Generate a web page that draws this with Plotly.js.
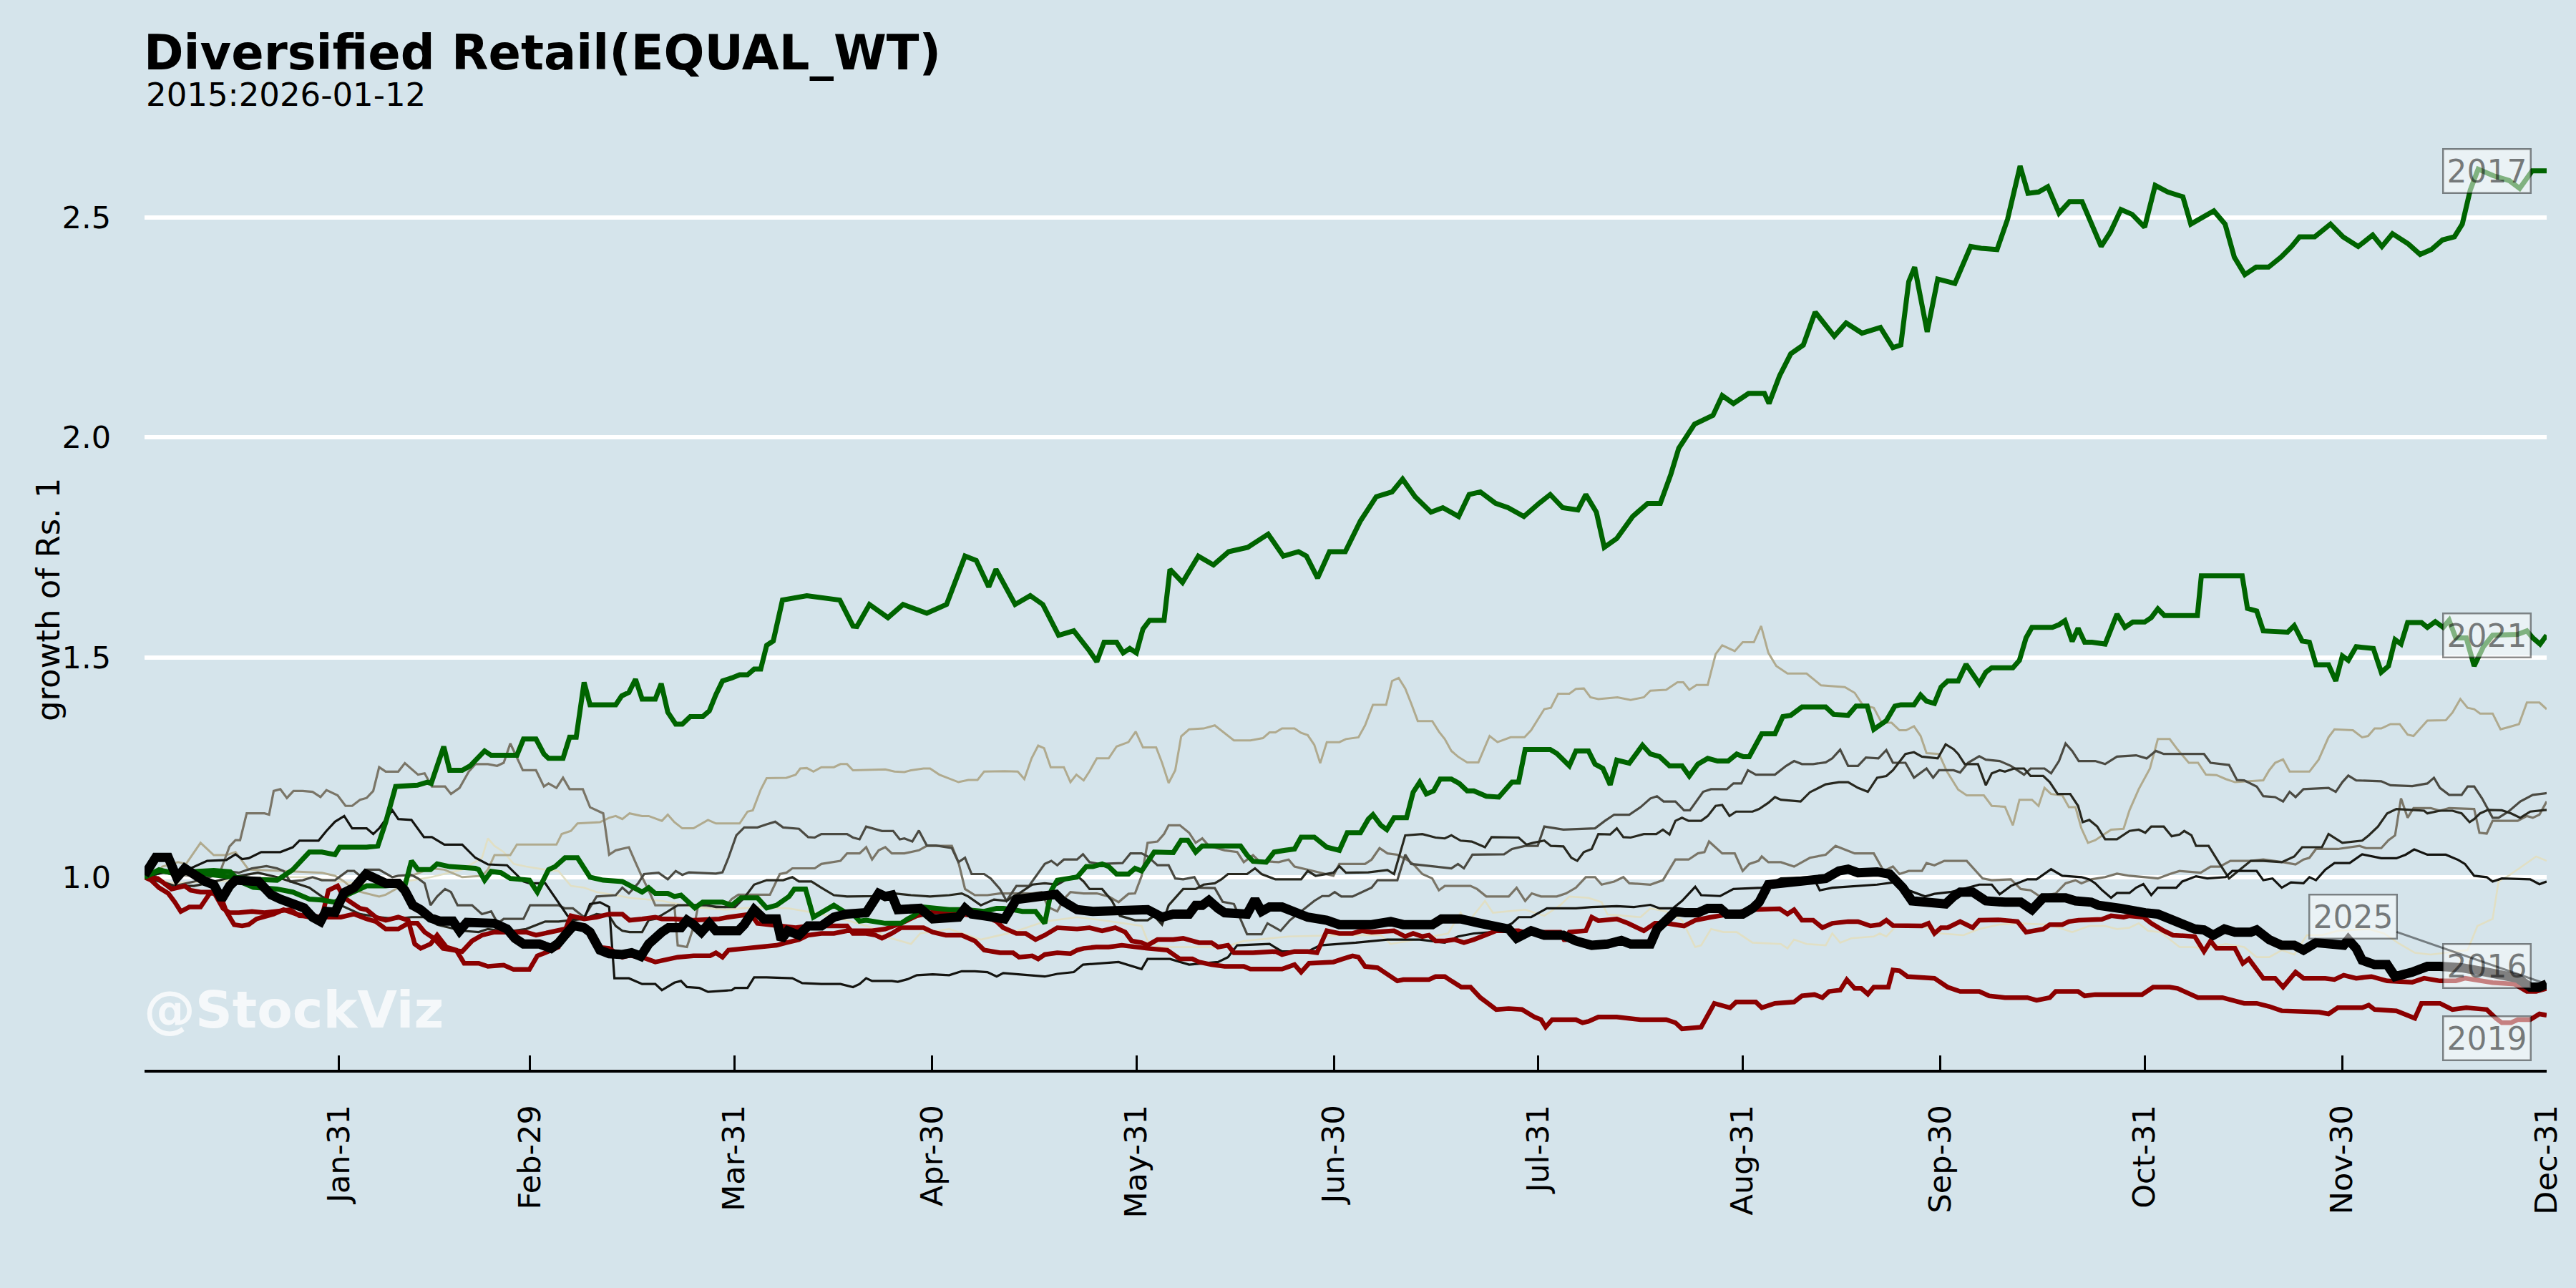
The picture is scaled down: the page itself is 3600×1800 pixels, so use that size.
<!DOCTYPE html>
<html>
<head>
<meta charset="utf-8">
<script src="https://cdn.plot.ly/plotly-3.0.1.min.js"></script>
<style>html,body{margin:0;padding:0;background:#d5e4eb;}</style>
</head>
<body>
<div id="chart" style="width:3600px;height:1800px;"></div>
<script>
// ---- data: [day-of-year offset from Jan-01, growth of Rs. 1] ----
const tickDates  = ['2024-01-31','2024-02-29','2024-03-31','2024-04-30','2024-05-31','2024-06-30','2024-07-31','2024-08-31','2024-09-30','2024-10-31','2024-11-30','2024-12-31'];
const tickLabels = ['Jan-31','Feb-29','Mar-31','Apr-30','May-31','Jun-30','Jul-31','Aug-31','Sep-30','Oct-31','Nov-30','Dec-31'];
const yTicks = [1.0, 1.5, 2.0, 2.5];

const yr2017 = [[0.5,1.0],[2.7,1.017],[5,1.008],[8,1.012],[11,1.005],[14,1.0],[17,0.995],[20.6,0.993],[23,1.017],[25.5,1.057],[27.4,1.057],[29.4,1.051],[30.1,1.068],[31.8,1.068],[34.2,1.068],[35.9,1.071],[37.1,1.125],[38.6,1.206],[41.9,1.209],[43.4,1.216],[44,1.213],[44.9,1.253],[45.9,1.297],[46.8,1.243],[48.7,1.243],[49.9,1.253],[50.9,1.27],[52.1,1.287],[53.1,1.277],[57,1.277],[58,1.314],[59.9,1.314],[61.1,1.28],[61.8,1.27],[64,1.27],[65,1.318],[66,1.318],[67.2,1.443],[68.1,1.392],[72,1.392],[72.9,1.412],[74,1.42],[75,1.45],[76,1.405],[78,1.405],[78.9,1.44],[79.9,1.375],[81.1,1.348],[82.1,1.348],[83.3,1.365],[85.2,1.365],[86.2,1.378],[87.2,1.415],[88.2,1.446],[89.6,1.453],[90.8,1.46],[92,1.46],[93,1.473],[94,1.473],[94.9,1.527],[95.9,1.537],[97.3,1.63],[101,1.64],[106,1.63],[108,1.571],[108.6,1.57],[110.5,1.62],[113.3,1.59],[115.6,1.62],[119.2,1.6],[122.2,1.62],[125,1.73],[126.7,1.72],[128.6,1.66],[129.7,1.70],[132.6,1.62],[134.9,1.64],[136.8,1.62],[139.2,1.55],[141.5,1.56],[143.9,1.514],[145,1.49],[146.1,1.534],[148,1.534],[149,1.51],[150,1.52],[151,1.51],[152,1.564],[153,1.584],[155.2,1.584],[156.1,1.70],[158,1.67],[160.4,1.73],[162.7,1.71],[165,1.74],[167.9,1.75],[171,1.78],[173.3,1.73],[175.6,1.74],[176.8,1.73],[178.5,1.68],[180.3,1.74],[182.7,1.74],[185,1.81],[187.4,1.865],[189.8,1.876],[191.4,1.905],[193.3,1.865],[195.7,1.83],[197.5,1.84],[199.9,1.82],[201.5,1.87],[203.2,1.876],[205.5,1.85],[207.4,1.84],[209.8,1.82],[212.1,1.85],[213.8,1.87],[215.7,1.84],[218,1.835],[219.2,1.87],[220.8,1.83],[222,1.75],[223.9,1.77],[226.3,1.82],[228.6,1.85],[230.5,1.85],[232.1,1.916],[233.3,1.975],[235.7,2.03],[238.5,2.05],[239.9,2.095],[241.6,2.077],[243.9,2.10],[246.3,2.10],[247,2.077],[248.6,2.14],[250.3,2.19],[252.2,2.21],[254,2.285],[256.9,2.23],[258.7,2.26],[261.1,2.237],[262.8,2.245],[263.9,2.25],[265.8,2.204],[267,2.21],[268.2,2.354],[269.1,2.387],[271,2.24],[272.6,2.36],[275.2,2.35],[277.6,2.434],[279.2,2.43],[281.6,2.427],[283.2,2.496],[285.1,2.617],[286.3,2.555],[287.9,2.558],[289.3,2.57],[291,2.51],[292.6,2.536],[294.5,2.536],[297.4,2.434],[298.8,2.467],[300.4,2.518],[302.1,2.507],[304,2.478],[305.6,2.573],[307.5,2.558],[309.8,2.547],[311,2.485],[312.7,2.5],[314.5,2.515],[316.2,2.485],[317.6,2.41],[319.2,2.37],[320.9,2.387],[322.8,2.387],[324.7,2.41],[326.3,2.434],[327.5,2.456],[329.8,2.456],[332.2,2.485],[334.1,2.456],[336.4,2.434],[338.6,2.46],[340,2.434],[341.6,2.463],[344,2.44],[345.8,2.416],[347.5,2.427],[349.2,2.449],[351,2.456],[352.2,2.485],[353.4,2.562],[354.6,2.61],[356.9,2.595],[359.3,2.584],[360.9,2.566],[362.8,2.606],[365,2.606]];

const yr2021 = [[0.5,1.0],[2.7,1.015],[5,1.01],[8,1.012],[11,1.015],[13.5,1.012],[15,0.99],[17,0.977],[20.6,0.973],[23,0.966],[25.5,0.95],[27.4,0.948],[29.4,0.943],[31.3,0.96],[34.2,0.98],[37.1,0.98],[39,0.983],[40,0.98],[41,1.037],[42,1.017],[43.9,1.017],[44.9,1.03],[46.8,1.024],[50.7,1.02],[51.2,1.017],[52.1,0.993],[53.1,1.013],[54.6,1.01],[56,0.997],[58.9,0.993],[60.1,0.966],[61.8,1.017],[62.8,1.024],[64.3,1.044],[66.2,1.044],[68.1,1.0],[70.1,0.993],[73,0.99],[74.1,0.98],[76,0.966],[77,0.976],[78,0.963],[79.9,0.963],[80.9,0.956],[81.9,0.959],[84,0.93],[85.2,0.943],[88.2,0.943],[89.6,0.936],[91,0.953],[93.5,0.953],[94.9,0.93],[96.4,0.936],[98.3,0.956],[99.1,0.973],[100.8,0.973],[102,0.909],[105.1,0.936],[106.6,0.922],[108,0.916],[109,0.9],[110,0.902],[112.9,0.895],[115.3,0.895],[116.3,0.905],[117.2,0.912],[118.7,0.932],[120.1,0.929],[122.6,0.926],[125,0.926],[127.9,0.922],[129.8,0.929],[130.8,0.929],[132.3,0.926],[133.7,0.922],[135.7,0.922],[137.1,0.895],[138.1,0.97],[139,0.993],[142,1.0],[143.4,1.024],[144.4,1.024],[145.8,1.03],[146.8,1.024],[148,1.007],[149.8,1.007],[150.8,1.02],[151.8,1.014],[152.7,1.034],[153.7,1.057],[156.6,1.056],[157.8,1.084],[158.8,1.084],[160,1.057],[161,1.071],[166.8,1.071],[167.8,1.05],[168.7,1.036],[170.7,1.034],[171.9,1.057],[173.6,1.061],[175,1.064],[176,1.091],[178,1.091],[179.9,1.068],[181.8,1.061],[183,1.101],[185,1.101],[186.2,1.132],[186.9,1.142],[188.1,1.118],[189,1.108],[190.1,1.135],[192,1.135],[193,1.193],[194,1.216],[195,1.189],[196.1,1.196],[197.1,1.223],[198.8,1.223],[200,1.213],[201.2,1.196],[202.2,1.196],[204.1,1.184],[206,1.182],[208,1.216],[209,1.216],[210,1.29],[213.8,1.29],[214.8,1.281],[216.7,1.253],[217.7,1.287],[219.6,1.287],[220.6,1.257],[221.8,1.247],[222.9,1.21],[223.9,1.266],[225.8,1.259],[227.8,1.3],[229,1.28],[230.4,1.274],[231.9,1.253],[233.8,1.253],[234.9,1.23],[236.2,1.257],[237.7,1.27],[239.2,1.264],[240.8,1.264],[242.1,1.28],[243.1,1.274],[244,1.274],[245.9,1.326],[247.9,1.326],[249.1,1.365],[250.3,1.368],[252,1.387],[255.6,1.387],[256.8,1.37],[259,1.368],[260.2,1.389],[261.9,1.389],[262.9,1.336],[264.8,1.356],[266.1,1.389],[267,1.392],[269,1.392],[270,1.414],[270.9,1.4],[272.1,1.395],[273.1,1.432],[274.1,1.446],[275.7,1.446],[276.9,1.484],[277.9,1.461],[278.9,1.44],[279.9,1.466],[280.8,1.476],[284,1.476],[285,1.493],[286,1.544],[286.9,1.568],[290,1.568],[291,1.574],[291.9,1.583],[293,1.536],[293.9,1.566],[294.9,1.534],[296,1.534],[298,1.53],[299.8,1.598],[301,1.568],[302.2,1.58],[304,1.58],[305,1.59],[306,1.61],[307,1.595],[312,1.595],[312.6,1.685],[318.8,1.685],[319.6,1.611],[321,1.605],[322,1.56],[325.7,1.557],[326.7,1.572],[327.9,1.537],[329,1.534],[330,1.483],[331.9,1.483],[333,1.446],[334,1.503],[334.9,1.493],[336.1,1.524],[338.7,1.52],[339.9,1.466],[341,1.48],[342,1.54],[342.9,1.53],[343.9,1.579],[346,1.579],[346.9,1.568],[348.1,1.581],[349.3,1.568],[350.2,1.584],[351.2,1.544],[352.8,1.544],[354,1.48],[355.4,1.524],[356.8,1.55],[360.6,1.552],[362,1.56],[362.9,1.544],[364,1.53],[365,1.55]];

const yr2025 = [[0.5,1.005],[2.2,1.045],[4.1,1.045],[5.4,0.999],[6.6,1.02],[8.5,1.0],[9.7,0.99],[11,0.983],[12.2,0.95],[13.4,0.98],[14.3,0.993],[17.8,0.99],[19.7,0.96],[21.1,0.95],[23,0.939],[24.7,0.93],[26,0.909],[27.2,0.899],[28,0.922],[29.4,0.92],[30.8,0.965],[32.3,0.976],[34.1,1.007],[35.6,0.997],[37.1,0.986],[39,0.986],[40,0.97],[41.2,0.936],[42.4,0.926],[43.9,0.907],[45.3,0.9],[47.3,0.9],[48.3,0.878],[49.4,0.897],[51.7,0.897],[53.6,0.895],[55.5,0.882],[56.7,0.861],[58,0.848],[60.4,0.848],[62.2,0.838],[63.3,0.85],[64.3,0.868],[65.6,0.89],[67.2,0.885],[68.1,0.875],[69.6,0.834],[71,0.826],[73,0.824],[74.4,0.828],[75.8,0.82],[77,0.848],[79,0.875],[80,0.885],[81.9,0.885],[82.8,0.902],[83.8,0.892],[85,0.875],[86.2,0.895],[87.2,0.878],[90.6,0.878],[91.5,0.892],[93,0.926],[94.5,0.905],[96.4,0.905],[97.1,0.858],[98.1,0.878],[99.8,0.868],[101.2,0.889],[103.2,0.889],[105.1,0.909],[107,0.916],[110,0.919],[111.9,0.963],[112.9,0.956],[113.9,0.959],[114.8,0.926],[116.8,0.926],[118.2,0.929],[120.1,0.905],[122.6,0.905],[124,0.909],[125,0.929],[126,0.916],[127.9,0.912],[129.8,0.905],[131,0.905],[132.8,0.949],[134.7,0.953],[137.1,0.953],[138.8,0.961],[139.8,0.946],[142,0.926],[144.4,0.922],[147.9,0.925],[152.7,0.926],[154.9,0.909],[156.6,0.916],[159,0.916],[160,0.936],[161,0.936],[162,0.947],[163.4,0.929],[164.4,0.919],[167.8,0.916],[169,0.949],[170,0.922],[171.2,0.932],[173.1,0.932],[175,0.919],[177,0.909],[179.9,0.902],[181.8,0.892],[186.7,0.892],[189.6,0.899],[191.5,0.892],[195.9,0.892],[197.3,0.905],[200.2,0.905],[203.2,0.895],[205.6,0.885],[207.5,0.882],[208.7,0.861],[210.9,0.878],[212.9,0.868],[215.8,0.868],[217.7,0.855],[220.1,0.845],[222.5,0.848],[224.6,0.856],[226,0.848],[229,0.848],[230,0.882],[231.4,0.902],[232.8,0.922],[234.3,0.919],[236.2,0.919],[237.7,0.929],[239.6,0.929],[240.6,0.916],[243,0.916],[244.5,0.929],[245.5,0.943],[246.9,0.983],[248.8,0.986],[250.8,0.993],[255.6,0.997],[257.6,1.014],[259,1.018],[260.5,1.01],[263.4,1.012],[265.3,1.007],[267.3,0.976],[268.7,0.946],[270.2,0.943],[273.8,0.939],[275,0.956],[276,0.966],[277.9,0.966],[279.9,0.946],[282.8,0.943],[285.2,0.943],[286.9,0.926],[288.6,0.953],[292,0.953],[293.5,0.946],[295.9,0.943],[297,0.936],[300.3,0.929],[302.7,0.926],[304.1,0.919],[306,0.916],[307.8,0.905],[309.7,0.889],[311.6,0.882],[313,0.88],[314.4,0.868],[316.1,0.882],[317.7,0.875],[320.1,0.875],[321,0.88],[322.9,0.858],[324.8,0.845],[326.7,0.845],[328.1,0.834],[330,0.851],[332.8,0.845],[334.2,0.845],[334.9,0.858],[336.1,0.838],[337,0.811],[338.9,0.801],[340.8,0.801],[342,0.774],[344.6,0.784],[346.9,0.797],[348.8,0.797],[352.1,0.794],[355.9,0.784],[360.6,0.77],[362.5,0.75],[363.9,0.75],[365,0.757]];

const yr2016 = [[0.5,1.0],[2.5,0.997],[4,0.98],[4.6,0.973],[6.6,0.98],[7.5,0.97],[9,0.966],[11,0.966],[12.4,0.929],[13.4,0.919],[14.8,0.919],[16.8,0.922],[18.7,0.919],[20.6,0.922],[22.6,0.926],[24,0.912],[26.4,0.909],[28.4,0.909],[30.3,0.909],[32.3,0.916],[34.2,0.905],[35.6,0.899],[37.1,0.882],[39,0.882],[40.5,0.895],[41.9,0.895],[43,0.875],[44.4,0.861],[45.8,0.838],[48,0.834],[48.7,0.831],[50.2,0.855],[51.7,0.868],[53.6,0.875],[58.4,0.875],[59.9,0.868],[61.8,0.875],[63.3,0.878],[65.2,0.885],[67.2,0.889],[69.1,0.841],[71,0.838],[73,0.818],[74.1,0.822],[76,0.818],[78,0.807],[79.9,0.814],[81.4,0.818],[83.8,0.821],[86.3,0.821],[87.2,0.828],[88.2,0.818],[89.1,0.834],[91.5,0.838],[93.5,0.841],[96.4,0.845],[97.9,0.851],[99.8,0.858],[101.2,0.868],[103.2,0.872],[105.1,0.872],[107.1,0.878],[110.9,0.878],[112.9,0.882],[115.3,0.895],[116.8,0.905],[117.7,0.912],[120.6,0.922],[122.6,0.922],[124.5,0.916],[126.5,0.912],[128.4,0.909],[129.8,0.899],[130.8,0.885],[132.8,0.872],[134.2,0.872],[135.7,0.858],[137.1,0.868],[139,0.885],[142,0.882],[143.9,0.885],[145.8,0.878],[147.8,0.885],[149.3,0.875],[150.3,0.855],[151.8,0.851],[152.7,0.845],[154.2,0.858],[156.6,0.858],[158.1,0.861],[160.5,0.851],[162.4,0.851],[163.4,0.841],[164.9,0.845],[165.8,0.828],[168.7,0.828],[172.1,0.831],[173.1,0.824],[175,0.831],[177,0.831],[178.4,0.828],[179.9,0.878],[181.8,0.872],[183.8,0.872],[185.2,0.878],[186.7,0.875],[190.1,0.878],[191.8,0.865],[193,0.872],[194.4,0.865],[195.4,0.868],[196.4,0.855],[197.8,0.855],[199.3,0.858],[200.7,0.851],[202.2,0.858],[204.6,0.872],[205.6,0.878],[209,0.878],[210.4,0.872],[212.9,0.875],[215.3,0.875],[216,0.855],[216.7,0.875],[219.2,0.878],[220.1,0.909],[221.1,0.901],[222.5,0.902],[223.9,0.905],[225.6,0.895],[228,0.878],[229.7,0.895],[231.4,0.895],[234.1,0.889],[235.8,0.902],[238.2,0.909],[241.1,0.916],[244,0.926],[248.6,0.928],[249.8,0.916],[250.8,0.926],[252,0.902],[253.7,0.902],[255.1,0.885],[256.6,0.895],[259,0.899],[260.5,0.899],[262.4,0.889],[263.8,0.892],[264.8,0.902],[265.8,0.89],[270.2,0.889],[271.2,0.895],[272.1,0.872],[273.1,0.885],[274.1,0.885],[276,0.899],[277.9,0.885],[278.9,0.902],[281.8,0.903],[284.7,0.899],[286,0.875],[288.6,0.882],[289.6,0.892],[291.5,0.892],[292.5,0.899],[294,0.902],[297.5,0.904],[298.9,0.912],[300.8,0.909],[301.7,0.912],[303.8,0.909],[305,0.895],[306.9,0.878],[308.3,0.868],[311.6,0.865],[313,0.831],[314,0.855],[314.9,0.838],[317.7,0.838],[318.9,0.804],[319.8,0.814],[322,0.77],[323.8,0.77],[325,0.75],[326.9,0.784],[328.1,0.77],[331.4,0.77],[332.8,0.767],[334.2,0.777],[336.1,0.77],[338.4,0.774],[340.8,0.764],[344.6,0.761],[346.4,0.77],[348.8,0.764],[351.2,0.764],[352.6,0.77],[356.8,0.76],[360.1,0.757],[362,0.74],[363.4,0.74],[365,0.747]];

const yr2019 = [[0.5,1.0],[1.5,0.993],[2.7,0.976],[4.1,0.963],[5.1,0.943],[6,0.922],[7.3,0.932],[9,0.932],[10.4,0.963],[11.9,0.963],[12.9,0.922],[14.1,0.892],[15.3,0.889],[16.3,0.892],[17.5,0.905],[18.7,0.909],[20.1,0.916],[21.6,0.926],[23.5,0.916],[25.5,0.909],[27.4,0.909],[28.4,0.97],[29.8,0.98],[30.8,0.953],[31.8,0.943],[33.2,0.929],[34.2,0.926],[35.6,0.909],[37.1,0.902],[39,0.909],[40.5,0.902],[41.5,0.848],[42.4,0.838],[43.9,0.848],[44.9,0.868],[46.3,0.841],[47.8,0.834],[49,0.804],[51.2,0.804],[52.6,0.797],[55,0.8],[56.5,0.79],[58.9,0.79],[60.1,0.821],[61.3,0.828],[63.3,0.841],[65.2,0.912],[67.2,0.905],[69.1,0.909],[71,0.916],[73,0.916],[74.1,0.902],[76,0.905],[78,0.909],[79,0.905],[80.9,0.905],[83.8,0.902],[87.7,0.905],[89.1,0.909],[90.6,0.912],[92.5,0.916],[93.5,0.895],[95.4,0.892],[97.4,0.889],[99.3,0.885],[101.2,0.889],[107.1,0.889],[108,0.872],[110,0.872],[111.4,0.868],[112.4,0.861],[113.9,0.872],[115.3,0.885],[118.7,0.885],[120.1,0.875],[122.1,0.868],[124.5,0.868],[126.5,0.855],[127.9,0.834],[130.3,0.828],[132.3,0.828],[133.2,0.818],[135.2,0.821],[136.1,0.814],[137.1,0.824],[139,0.828],[141,0.826],[142,0.834],[143,0.838],[144.9,0.841],[146.8,0.841],[148.8,0.845],[150.8,0.841],[152.7,0.838],[155.7,0.834],[157.6,0.814],[159.5,0.814],[160.5,0.807],[162.4,0.801],[164.4,0.797],[167.3,0.797],[168.3,0.791],[172.1,0.791],[173.1,0.791],[175,0.801],[176,0.784],[177.2,0.804],[180.9,0.807],[182.3,0.814],[183.8,0.821],[184.7,0.818],[185.7,0.797],[187.6,0.794],[189.1,0.78],[190.6,0.764],[191.5,0.767],[195.4,0.767],[196.4,0.774],[197.8,0.774],[198.8,0.764],[200.3,0.75],[201.7,0.75],[203.2,0.726],[204.1,0.716],[205.6,0.699],[207.5,0.701],[209.5,0.699],[211.4,0.682],[212.4,0.676],[213.1,0.659],[214.1,0.676],[217.7,0.676],[218.7,0.669],[219.6,0.672],[221.1,0.682],[223.9,0.682],[225.6,0.679],[227.5,0.676],[231.4,0.676],[232.8,0.669],[233.8,0.655],[236.7,0.659],[238.7,0.713],[239.9,0.709],[241.1,0.703],[242,0.716],[245,0.716],[245.9,0.703],[247.9,0.713],[250.8,0.716],[252,0.73],[253.9,0.733],[255.1,0.726],[256.1,0.74],[257.8,0.743],[258.8,0.767],[260,0.747],[261,0.747],[262,0.734],[262.9,0.75],[265.1,0.75],[265.8,0.789],[266.8,0.787],[268,0.774],[272.1,0.77],[274.1,0.75],[276,0.74],[278.9,0.74],[280.4,0.73],[282.8,0.726],[286.2,0.726],[287.6,0.72],[289.6,0.726],[290.5,0.74],[293.9,0.74],[294.9,0.73],[296.5,0.733],[299.8,0.733],[303.6,0.733],[305.3,0.75],[307.8,0.75],[309,0.747],[312.1,0.726],[315.8,0.726],[319.1,0.713],[321,0.713],[322.9,0.706],[324.8,0.696],[328.6,0.693],[330.5,0.693],[331.9,0.689],[333.3,0.703],[337,0.703],[338,0.709],[338.9,0.699],[340.8,0.696],[342.2,0.696],[345,0.679],[346,0.713],[348.8,0.713],[350.7,0.699],[352.8,0.703],[355.9,0.699],[357.3,0.679],[358.2,0.669],[359.6,0.669],[360.6,0.676],[362.5,0.676],[363.9,0.689],[365,0.686]];

const yr2022 = [[0.5,1.0],[3.2,1.01],[7.5,1.003],[10,1.003],[12.1,1.017],[13.4,1.07],[14.3,1.084],[15,1.084],[16,1.145],[18.7,1.145],[19.4,1.142],[20.1,1.196],[21.1,1.2],[22.1,1.18],[23.1,1.196],[24.5,1.196],[26,1.194],[27.2,1.182],[28.1,1.198],[29.8,1.186],[31,1.162],[32,1.162],[33.2,1.176],[34.2,1.18],[35.2,1.196],[36.1,1.25],[37.1,1.24],[39,1.24],[40,1.259],[42,1.233],[43,1.236],[44.1,1.206],[46.1,1.206],[47,1.189],[48.3,1.203],[49.7,1.24],[50.7,1.257],[52.6,1.257],[54,1.253],[55,1.26],[56,1.304],[57.9,1.243],[59.9,1.243],[61.1,1.206],[61.8,1.213],[63,1.203],[64,1.226],[65,1.2],[67,1.2],[68.1,1.159],[70.1,1.145],[71,1.051],[72,1.061],[74,1.068],[74.9,1.037],[76,1.0],[77,0.97],[78,0.936],[80.9,0.936],[81.4,0.845],[82.8,0.841],[84,0.895],[84.5,0.936],[88.6,0.932],[89.6,0.95],[90.6,0.96],[95.4,0.96],[96.9,1.007],[97.9,1.01],[98.8,1.02],[102.2,1.02],[103.2,1.03],[106.1,1.037],[107.1,1.054],[109,1.054],[110,1.068],[110.9,1.04],[111.9,1.061],[112.9,1.068],[113.9,1.054],[115.8,1.054],[118,1.061],[119.2,1.071],[123,1.071],[124,1.034],[125,0.973],[126.5,0.959],[128.4,0.959],[130.3,0.963],[135.2,0.963],[136.6,0.966],[137.6,0.932],[139,0.922],[140,0.95],[141,0.966],[143,0.963],[145,0.963],[146.8,0.956],[148.3,0.943],[149.8,0.962],[150.8,0.963],[151.8,1.003],[152.7,1.078],[154.2,1.081],[155.2,1.098],[155.9,1.118],[157.6,1.118],[159,1.101],[160,1.078],[161,1.088],[162,1.071],[164.4,1.061],[166.3,1.057],[167.3,1.034],[168.7,1.05],[169.6,1.037],[172.6,1.034],[174.1,1.04],[175,1.024],[177,1.017],[178.9,1.01],[180.9,1.003],[181.8,1.03],[185.7,1.03],[186.7,1.04],[187.9,1.066],[189.1,1.054],[190.6,1.051],[192,1.04],[193,1.03],[194.4,1.007],[195.9,0.997],[196.9,0.97],[197.8,0.98],[200.2,0.98],[201.7,0.98],[202.7,0.973],[204.1,0.956],[207.5,0.956],[208.7,0.976],[210,0.946],[211,0.963],[212.4,0.956],[214.8,0.956],[216.2,0.963],[217.7,0.976],[219.2,1.0],[220.6,1.0],[221.6,0.983],[223.5,0.99],[224.9,1.0],[225.8,0.986],[229,0.983],[230.9,0.993],[232.8,1.04],[234.8,1.04],[236.2,1.054],[237.2,1.057],[237.9,1.081],[239.9,1.054],[241.8,1.054],[243,1.014],[244,1.03],[245.4,1.037],[245.9,1.047],[246.9,1.034],[248.8,1.034],[250.8,1.024],[253.2,1.044],[255.6,1.051],[257.1,1.071],[260,1.054],[262.9,1.054],[264.4,1.014],[265.8,1.024],[266.8,1.007],[268.2,1.014],[270.2,1.014],[270.9,1.032],[272.1,1.027],[273.6,1.037],[277,1.037],[279.4,0.997],[280.8,0.993],[283.7,0.995],[285.2,0.973],[286.7,0.97],[288.1,0.956],[290.5,0.963],[292,0.986],[293.5,0.993],[294.4,0.986],[295.9,0.995],[298,1.0],[299.8,1.008],[301.7,1.003],[304.1,1.0],[306,0.997],[307.8,1.007],[309.3,1.014],[312.5,1.01],[314,1.024],[315.4,1.024],[317,1.037],[320.1,1.037],[322,1.04],[325,1.034],[326.9,1.029],[328.1,1.04],[329,1.044],[330,1.064],[333.3,1.064],[336.6,1.071],[337.6,1.066],[339.9,1.066],[341,1.084],[342,1.095],[342.9,1.179],[343.9,1.135],[344.8,1.157],[347.4,1.157],[348.8,1.151],[350.2,1.157],[354,1.155],[354.8,1.101],[355.9,1.099],[356.8,1.128],[360.6,1.128],[362,1.139],[362.9,1.135],[363.9,1.142],[365,1.172]];

const yr2023 = [[0.5,1.0],[2.5,0.993],[5.1,0.98],[8,0.99],[11,1.003],[12.9,1.014],[14.8,1.01],[16.8,1.02],[19,1.025],[20.6,1.02],[21.6,1.014],[22.6,0.99],[24.5,0.993],[26,1.0],[27.4,0.993],[29.4,0.993],[31.3,1.014],[32.3,1.014],[33.2,1.003],[34.2,1.017],[36.1,1.017],[38.1,1.0],[39,1.003],[41,1.005],[42,0.997],[43,0.986],[43.9,0.936],[44.9,0.956],[46.1,0.973],[47,0.966],[48,0.936],[50.2,0.936],[51.7,0.916],[53.1,0.922],[54.1,0.895],[55,0.905],[58,0.905],[59,0.936],[61.3,0.936],[63.3,0.936],[64.3,0.929],[65.5,0.929],[67.2,0.909],[69.1,0.956],[72,0.959],[73,0.976],[74,0.963],[75.4,0.986],[76.3,1.007],[78.5,1.01],[79.9,0.995],[81.1,1.014],[82.1,1.005],[83.1,1.011],[87.2,1.008],[88.2,1.011],[89.1,1.044],[90.3,1.095],[91.5,1.113],[93.5,1.113],[94.9,1.12],[96.2,1.126],[97.4,1.113],[99.8,1.11],[101.2,1.091],[102.2,1.09],[103.2,1.098],[107.1,1.098],[108,1.09],[109,1.086],[110,1.115],[110.9,1.111],[112.4,1.105],[114.1,1.105],[115.1,1.086],[115.8,1.088],[117,1.081],[118,1.106],[119.2,1.072],[120.6,1.072],[123,1.066],[124,1.034],[125,1.044],[126,1.007],[127.9,1.007],[128.9,0.997],[130.3,0.973],[131.3,0.946],[132.8,0.98],[134.7,0.98],[136.1,1.01],[137.1,1.03],[138.1,1.037],[139,1.027],[140,1.04],[142,1.04],[142.9,1.052],[143.9,1.034],[145.4,1.03],[147.9,1.032],[148.9,1.032],[150.1,1.054],[151.8,1.054],[152.7,1.047],[154.2,1.027],[155.9,1.027],[156.9,0.997],[158.1,0.995],[159.8,1.0],[160.7,0.976],[162.9,0.975],[164.1,0.944],[165.8,0.939],[167.8,0.87],[170,0.87],[170.9,0.895],[172.9,0.878],[174.3,0.902],[176,0.922],[178,0.946],[179.2,0.957],[180.2,0.957],[181.1,0.966],[182.1,0.956],[183.8,0.956],[186.7,0.976],[187.6,0.993],[190.6,0.993],[191.8,1.051],[192.7,1.03],[196.4,1.024],[198.8,1.02],[199.8,1.03],[200.7,1.02],[202,1.051],[206.8,1.052],[208,1.064],[210,1.071],[211.9,1.071],[212.9,1.115],[215.8,1.108],[220.6,1.111],[222.1,1.128],[223.5,1.142],[225.8,1.142],[227.5,1.159],[229,1.179],[230,1.184],[231,1.172],[232.8,1.172],[234.1,1.152],[235,1.152],[237,1.194],[238.2,1.2],[240.6,1.2],[241.6,1.213],[242.8,1.213],[243.8,1.243],[245,1.233],[247.9,1.233],[249.6,1.253],[250.8,1.264],[252,1.257],[253.7,1.257],[255.6,1.261],[256.6,1.27],[257.8,1.29],[259,1.253],[260.5,1.253],[261.7,1.272],[263.6,1.27],[264.8,1.289],[265.8,1.26],[267.7,1.26],[269,1.226],[270.9,1.247],[271.9,1.226],[272.8,1.243],[275,1.243],[276,1.238],[277.2,1.26],[278.9,1.275],[279.9,1.267],[282,1.264],[283.7,1.253],[285.7,1.233],[286.7,1.247],[288.8,1.247],[289.8,1.236],[291,1.264],[292,1.304],[293,1.287],[294,1.264],[296.5,1.264],[298,1.257],[299.8,1.274],[302.7,1.277],[304.3,1.27],[305.7,1.287],[306.9,1.28],[313,1.28],[314,1.26],[316.8,1.255],[318,1.221],[319.1,1.22],[321,1.206],[322,1.184],[323.8,1.182],[325,1.172],[326,1.194],[326.9,1.182],[328.1,1.2],[331.9,1.203],[333,1.194],[334,1.216],[334.9,1.231],[336.1,1.22],[339.9,1.218],[341.3,1.209],[344.6,1.207],[346.9,1.213],[347.9,1.226],[348.8,1.203],[350.2,1.187],[352.1,1.187],[353,1.206],[354,1.206],[355.2,1.179],[356.8,1.135],[357.7,1.135],[359.2,1.149],[361,1.172],[362.9,1.187],[365,1.191]];

const yr2024 = [[0.5,1.0],[2.7,0.99],[5,0.98],[8,0.98],[10,0.986],[13.8,1.0],[17.7,1.01],[20.6,1.0],[23.5,0.986],[25.5,0.976],[27.4,0.956],[30.3,0.936],[33.2,0.916],[36.1,0.909],[38.6,0.905],[41,0.909],[43,0.909],[44.9,0.892],[46.8,0.885],[48.7,0.878],[51.2,0.875],[52.6,0.882],[54.6,0.878],[56.5,0.878],[58.4,0.882],[61.3,0.899],[63.3,0.899],[65.2,0.902],[67.2,0.905],[69.1,0.916],[71,0.912],[72,0.889],[73,0.878],[74.1,0.875],[76,0.875],[77,0.902],[78,0.905],[79.9,0.922],[81.4,0.936],[85.7,0.937],[87.2,0.932],[90.1,0.932],[91.5,0.953],[93,0.983],[94.9,0.993],[97.4,0.993],[98.8,1.0],[99.8,0.99],[101.7,0.99],[103.2,0.976],[105.1,0.959],[107.1,0.956],[112.4,0.957],[114.3,0.963],[116.8,0.959],[119.7,0.956],[122.6,0.959],[124.5,0.963],[125.5,0.956],[127.4,0.936],[129.4,0.949],[131.3,0.946],[132.3,0.956],[133.2,0.963],[135.2,0.983],[137.1,0.986],[139,0.983],[141,1.0],[142,1.003],[143,0.99],[143.9,0.973],[145.8,0.973],[147.3,0.946],[148.5,0.912],[150.8,0.902],[152.7,0.902],[153.7,0.912],[154.9,0.892],[155.9,0.936],[158.1,0.973],[160,0.973],[161.2,0.983],[162.9,0.986],[163.9,0.995],[164.9,1.007],[167.8,1.007],[169,1.02],[170,1.007],[172.1,0.995],[176,0.995],[177,1.014],[178.2,1.003],[180.9,1.01],[181.8,1.025],[182.8,1.01],[186.2,1.011],[189.1,1.016],[190.1,1.007],[191.8,1.095],[194.4,1.098],[196.4,1.09],[197.8,1.088],[198.8,1.095],[200.2,1.083],[201.9,1.081],[203.9,1.068],[204.9,1.091],[209,1.09],[210.2,1.074],[211.2,1.078],[212.9,1.083],[213.9,1.071],[215.8,1.07],[217,1.044],[217.9,1.037],[218.9,1.057],[220.1,1.064],[221.1,1.098],[222.9,1.097],[223.9,1.111],[224.9,1.091],[226,1.09],[228,1.098],[229.9,1.098],[230.9,1.108],[231.9,1.097],[232.8,1.128],[233.8,1.135],[234.8,1.128],[236.7,1.128],[237.7,1.139],[238.9,1.162],[239.9,1.164],[241,1.139],[242,1.149],[244.5,1.149],[245.5,1.155],[246.9,1.169],[247.9,1.182],[248.8,1.176],[251.8,1.172],[253.2,1.193],[255.6,1.211],[257.6,1.216],[259,1.216],[260.5,1.203],[262,1.194],[263.4,1.226],[264.8,1.23],[265.8,1.243],[267.7,1.28],[269,1.284],[270.2,1.274],[272.6,1.27],[273.8,1.302],[275,1.291],[275.7,1.28],[276.7,1.257],[278.7,1.257],[279.9,1.209],[280.8,1.236],[282,1.243],[282.8,1.24],[284.2,1.247],[285.7,1.247],[286.7,1.23],[288.6,1.23],[289.6,1.216],[290.8,1.189],[292.7,1.189],[293.9,1.162],[294.6,1.125],[295.6,1.13],[296.8,1.115],[298,1.086],[299.8,1.086],[301.7,1.105],[303.1,1.108],[304.1,1.101],[305,1.115],[306.9,1.115],[308.1,1.093],[309.3,1.097],[310,1.105],[311.1,1.095],[311.8,1.071],[313.7,1.071],[315.4,1.03],[316.8,0.997],[318.7,1.02],[320.1,1.037],[322,1.037],[324.8,1.034],[326.7,1.047],[327.9,1.068],[330.9,1.068],[331.9,1.098],[334,1.078],[337,1.083],[338,1.095],[339.4,1.115],[340.8,1.145],[342.2,1.155],[344.6,1.153],[346.4,1.151],[346.9,1.145],[348.8,1.151],[350.7,1.151],[352.1,1.145],[353.3,1.125],[354,1.132],[354.9,1.145],[356.1,1.153],[358.2,1.152],[359.6,1.145],[361,1.135],[362.5,1.149],[365,1.153]];

const yr2020 = [[0.5,1.0],[3.2,1.01],[6.6,1.014],[10,1.037],[12.9,1.039],[14.3,1.052],[15.3,1.041],[16.3,1.043],[18.2,1.057],[21.1,1.057],[23,1.068],[24,1.083],[26.9,1.083],[28.1,1.105],[29.4,1.126],[30.8,1.139],[32,1.111],[34.2,1.111],[35.2,1.098],[36.1,1.111],[38.1,1.152],[39,1.132],[41,1.13],[42.9,1.091],[44.1,1.091],[46,1.074],[48.7,1.074],[50.7,1.044],[52.6,1.029],[55.5,1.027],[58,0.99],[58.9,0.986],[61.3,0.986],[62.8,0.953],[64.7,0.912],[65.7,0.905],[67.2,0.905],[68.1,0.939],[69.6,0.943],[71,0.932],[71.8,0.77],[74,0.77],[76,0.757],[78,0.757],[79,0.743],[80.9,0.76],[81.9,0.764],[82.8,0.75],[84.7,0.748],[86,0.739],[88.6,0.741],[89.6,0.743],[90.1,0.748],[92,0.748],[93,0.772],[94.9,0.772],[98.8,0.77],[100.3,0.759],[103.2,0.757],[106.1,0.757],[108,0.75],[109,0.757],[110,0.77],[110.9,0.764],[113.9,0.764],[114.8,0.762],[116.3,0.768],[117.7,0.777],[120.1,0.779],[122.6,0.777],[124.5,0.786],[126.5,0.786],[128.4,0.784],[129.8,0.774],[130.8,0.782],[134.7,0.777],[137.1,0.774],[139,0.78],[141.5,0.784],[142.9,0.801],[145.4,0.804],[148.3,0.807],[151.8,0.791],[152.7,0.814],[156.1,0.814],[159,0.801],[163.4,0.807],[164.9,0.818],[166.3,0.845],[171.2,0.848],[173.1,0.831],[177,0.831],[178.9,0.845],[184.3,0.851],[189.1,0.858],[194,0.858],[197.8,0.851],[199.8,0.865],[202.2,0.872],[205.1,0.875],[208,0.895],[209,0.909],[210.9,0.909],[212.4,0.922],[213.3,0.929],[217.7,0.929],[220.1,0.932],[223.9,0.934],[226.5,0.932],[229,0.937],[230.4,0.929],[232.4,0.929],[233.8,0.946],[235.8,0.978],[236.7,0.959],[239.6,0.957],[241.6,0.973],[245.9,0.976],[248.8,0.997],[253.7,1.0],[254.7,0.97],[256.6,0.976],[260.5,0.98],[263.4,0.983],[266.3,0.989],[268.2,0.97],[270.7,0.956],[272.1,0.962],[274.5,0.966],[276.5,0.973],[278.9,0.983],[280.8,0.983],[282,0.961],[283.7,0.98],[286.2,0.995],[287.6,0.995],[289.8,1.018],[291.5,1.003],[294.4,1.0],[295.6,0.995],[296.5,0.986],[297.5,0.971],[298.9,0.953],[299.8,0.964],[301.7,0.964],[302.7,0.976],[303.8,0.984],[305,0.959],[306,0.976],[308.8,0.976],[309.7,0.99],[311.8,1.002],[313.5,0.997],[316.3,1.0],[317.3,1.014],[321,1.014],[322,0.993],[323.4,0.997],[324.8,0.976],[326.2,0.988],[328.1,0.986],[329,1.0],[330,0.993],[331.4,1.017],[332.8,1.032],[335.1,1.032],[337,1.052],[339.9,1.043],[342.2,1.043],[343.6,1.051],[344.9,1.063],[346.9,1.051],[349.7,1.051],[351.6,1.039],[352.6,1.03],[354,1.003],[355.9,1.0],[356.8,0.99],[358.2,0.997],[362.5,0.995],[363.9,0.984],[365,0.99]];

const yr2018 = [[0.5,1.0],[1.5,0.99],[3.2,1.024],[5.6,1.034],[6.8,1.03],[9,1.078],[11,1.05],[12.9,1.05],[14.3,1.057],[16.3,1.017],[21.6,1.014],[27.4,1.01],[29.4,1.003],[30.8,0.99],[32.3,0.97],[36.1,0.956],[37.1,0.96],[39,0.976],[40.5,1.0],[43.9,1.02],[46,1.017],[48.7,1.0],[51.7,1.003],[52.6,1.017],[53.6,1.05],[56,1.05],[57,1.074],[63,1.074],[63.8,1.098],[65.2,1.105],[66.2,1.122],[69.6,1.125],[71,1.135],[72,1.139],[73,1.132],[74.1,1.145],[76,1.139],[77,1.139],[79,1.128],[79.9,1.142],[80.9,1.125],[82.1,1.111],[83.8,1.111],[86,1.13],[87.2,1.122],[90.8,1.122],[92,1.149],[92.8,1.152],[94,1.199],[94.9,1.225],[97.9,1.226],[99.3,1.233],[100,1.247],[101,1.248],[102,1.24],[103.2,1.25],[105.1,1.25],[106.1,1.257],[107.1,1.257],[108,1.243],[112.9,1.245],[114.3,1.24],[115.8,1.239],[116.8,1.243],[118.7,1.247],[119.7,1.247],[121.1,1.233],[123,1.221],[124,1.216],[125.5,1.221],[126.9,1.221],[127.9,1.24],[131,1.241],[133,1.24],[134,1.223],[135.1,1.27],[136.1,1.299],[137,1.293],[138,1.25],[140,1.25],[141,1.216],[141.9,1.233],[143,1.22],[143.9,1.241],[145,1.27],[146.8,1.27],[148,1.297],[149.8,1.307],[150.9,1.331],[152,1.295],[154,1.295],[154.9,1.26],[155.9,1.214],[156.9,1.243],[157.8,1.32],[159,1.336],[161.2,1.338],[162.9,1.345],[164.4,1.328],[165.8,1.311],[168.3,1.311],[170.2,1.316],[171.2,1.329],[172.1,1.329],[173.1,1.338],[175,1.338],[176,1.328],[177,1.323],[178,1.301],[178.9,1.259],[179.9,1.307],[181.8,1.307],[182.8,1.314],[184.7,1.318],[185.7,1.345],[186.9,1.392],[188.9,1.392],[189.8,1.446],[190.8,1.453],[191.8,1.429],[192.7,1.395],[193.7,1.355],[195.9,1.355],[196.9,1.331],[197.8,1.314],[198.8,1.287],[199.8,1.274],[201.2,1.261],[202.9,1.261],[204.6,1.321],[205.8,1.307],[207.8,1.318],[209.9,1.318],[210.9,1.334],[212.9,1.382],[213.9,1.385],[215,1.417],[216.7,1.417],[217.7,1.428],[218.9,1.429],[219.9,1.409],[221.1,1.405],[224,1.409],[226,1.403],[228,1.409],[229,1.424],[231.4,1.426],[233.1,1.443],[234,1.443],[234.9,1.426],[236,1.437],[237.7,1.437],[238.9,1.507],[239.9,1.527],[241.8,1.514],[243,1.534],[244.7,1.534],[245.8,1.571],[246.9,1.51],[248.1,1.48],[249.8,1.463],[252.7,1.463],[254.9,1.436],[258.5,1.432],[260,1.419],[261.2,1.392],[262.9,1.385],[264.1,1.351],[265.6,1.351],[266.8,1.334],[267.8,1.334],[269,1.343],[270,1.321],[270.9,1.282],[272.8,1.28],[274,1.24],[275.7,1.199],[277,1.186],[279.6,1.186],[280.8,1.162],[282.8,1.16],[284,1.118],[285,1.176],[286.9,1.176],[287.9,1.162],[288.8,1.203],[289.8,1.189],[291.5,1.186],[292.5,1.159],[293.5,1.159],[294.4,1.111],[295.4,1.078],[296.5,1.084],[298.9,1.108],[300.8,1.11],[301.7,1.152],[303.1,1.2],[304.8,1.247],[306,1.314],[307.8,1.314],[309,1.29],[310.7,1.26],[312.1,1.26],[313.3,1.233],[314.9,1.232],[316.3,1.223],[317.7,1.216],[322,1.22],[322.9,1.243],[323.8,1.26],[325,1.268],[326,1.24],[329,1.24],[330.4,1.267],[331.9,1.318],[332.8,1.336],[335.6,1.334],[337,1.318],[337.9,1.321],[338.9,1.338],[339.9,1.338],[341.3,1.348],[342.7,1.348],[343.9,1.324],[344.8,1.321],[346.9,1.356],[349.7,1.357],[350.7,1.374],[351.9,1.405],[353,1.385],[354,1.382],[354.9,1.372],[356.8,1.372],[358,1.336],[359.2,1.341],[360.8,1.348],[362,1.397],[363.9,1.397],[365,1.382]];

const yr2015 = [[0.5,1.0],[5,0.986],[10,0.99],[15,0.993],[20,1.0],[25,1.0],[30,0.99],[35,0.983],[40,0.99],[44,1.0],[48.7,1.017],[51.7,1.044],[52.6,1.088],[53.6,1.071],[55,1.057],[56.5,1.03],[58.4,1.024],[61.3,1.017],[63.3,1.014],[65.2,0.98],[67.2,0.976],[69.1,0.966],[72,0.959],[74.1,0.953],[79,0.946],[83.8,0.932],[88.6,0.926],[93.5,0.932],[98.3,0.929],[103.2,0.916],[107.1,0.902],[110.9,0.885],[112.9,0.865],[116.8,0.848],[118.2,0.872],[122.6,0.882],[127.4,0.858],[132.3,0.875],[137.1,0.899],[142,0.909],[145.8,0.902],[150.1,0.893],[151.8,0.889],[152.7,0.855],[154.7,0.841],[160.5,0.841],[164.4,0.841],[167.3,0.855],[174.1,0.865],[181.8,0.868],[188.1,0.868],[189.6,0.848],[193.5,0.858],[198.3,0.872],[200.2,0.919],[201.2,0.895],[203.9,0.946],[205.1,0.919],[210,0.926],[212.9,0.912],[215.3,0.936],[216.7,0.956],[219.6,0.953],[221.6,0.943],[222.5,0.915],[227.5,0.909],[229,0.929],[231.4,0.922],[233.8,0.902],[235.8,0.841],[236.7,0.845],[238.2,0.882],[240.1,0.875],[242.1,0.875],[244.5,0.851],[248.8,0.848],[249.8,0.838],[250.8,0.858],[252.7,0.848],[255.6,0.845],[256.6,0.872],[257.8,0.851],[259.5,0.861],[262.9,0.865],[263.8,0.872],[264.8,0.865],[266.3,0.889],[270.2,0.889],[273.1,0.872],[276.5,0.868],[278.9,0.882],[281.8,0.892],[284.7,0.895],[289.6,0.892],[293,0.875],[295.6,0.889],[298,0.889],[299.8,0.882],[301.7,0.885],[303.1,0.895],[304.5,0.878],[306.4,0.875],[309.3,0.841],[311.2,0.841],[313,0.838],[316.3,0.848],[319.1,0.841],[321,0.818],[322.9,0.818],[324.8,0.834],[326.7,0.824],[328.6,0.868],[330.9,0.868],[333.3,0.878],[338,0.882],[340.3,0.872],[342.7,0.848],[345,0.828],[347.4,0.824],[349.7,0.828],[353,0.834],[354.5,0.889],[356.8,0.905],[357.7,0.99],[359.2,1.003],[361.5,1.027],[363.4,1.047],[365,1.037]];

// ---- build ----
const FONT = 'DejaVu Sans, Liberation Sans, sans-serif';
const base = Date.UTC(2024, 0, 1);
const DAY = 86400000;
const toX = s => s.map(p => base + p[0] * DAY);
const toY = s => s.map(p => p[1]);

function line(s, name, color, width) {
  return {type: 'scatter', mode: 'lines', name: name, x: toX(s), y: toY(s),
          line: {color: color, width: width, shape: 'linear'}, hoverinfo: 'skip'};
}

const traces = [
  line(yr2015, '2015', '#e1dfc4', 2.6),
  line(yr2018, '2018', '#b0aa8e', 3.0),
  line(yr2022, '2022', '#7a7567', 3.2),
  line(yr2023, '2023', '#4b4a42', 3.2),
  line(yr2024, '2024', '#28281f', 3.2),
  line(yr2020, '2020', '#141410', 3.2),
  line(yr2019, '2019', '#8b0000', 6.5),
  line(yr2016, '2016', '#8b0000', 6.5),
  line(yr2021, '2021', '#006400', 7),
  line(yr2017, '2017', '#006400', 7),
  line(yr2025, '2025', '#000000', 13)
];

const last = s => s[s.length - 1];
function tag(s, label, extra) {
  const p = last(s);
  return Object.assign({
    x: base + p[0] * DAY, y: p[1], xref: 'x', yref: 'y', text: label,
    showarrow: false, xanchor: 'right', yanchor: 'middle', xshift: -21,
    font: {family: FONT, size: 44, color: 'rgba(0,0,0,0.5)'},
    bgcolor: 'rgba(255,255,255,0.5)', bordercolor: 'rgba(0,0,0,0.45)',
    borderwidth: 2.5, borderpad: 4
  }, extra || {});
}

const annotations = [
  tag(yr2017, '2017'),
  tag(yr2021, '2021'),
  tag(yr2016, '2016', {yshift: 31}),
  tag(yr2019, '2019', {yshift: -32}),
  tag(yr2025, '2025', {showarrow: true, arrowhead: 0, arrowwidth: 3, arrowcolor: 'rgba(0,0,0,0.45)',
                       ax: -271, ay: -94, xanchor: 'center', xshift: 0, standoff: 0}),
  {xref: 'paper', yref: 'paper', x: 0, y: 1.037, xanchor: 'left', yanchor: 'middle',
   text: '2015:2026-01-12', showarrow: false, font: {family: FONT, size: 45, color: '#000'}},
  {xref: 'paper', yref: 'paper', x: -0.0402, y: 0.5, xanchor: 'center', yanchor: 'middle',
   text: 'growth of Rs. 1', textangle: -90, showarrow: false, font: {family: FONT, size: 45, color: '#000'}},
  {xref: 'paper', yref: 'paper', x: -0.001, y: 0.064, xanchor: 'left', yanchor: 'middle',
   text: '<b>@StockViz</b>', showarrow: false, font: {family: FONT, size: 72, color: 'rgba(255,255,255,0.75)'}}
];

const layout = {
  width: 3600, height: 1800,
  paper_bgcolor: '#d5e4eb', plot_bgcolor: '#d5e4eb',
  margin: {l: 202, r: 41, t: 181, b: 305, pad: 0},
  showlegend: false,
  title: {text: '<b>Diversified Retail(EQUAL_WT)</b>', xref: 'container', yref: 'container',
          x: 201 / 3600, xanchor: 'left', y: 1 - 74 / 1800, yanchor: 'middle',
          font: {family: FONT, size: 67, color: '#000'}},
  xaxis: {type: 'date', range: [base + 0.5 * DAY, base + 365 * DAY],
          tickvals: tickDates, ticktext: tickLabels, tickangle: -90,
          ticks: 'inside', ticklen: 20, tickwidth: 3, tickcolor: '#000',
          showline: true, linecolor: '#000', linewidth: 4, showgrid: false, zeroline: false,
          ticklabelstandoff: 28,
          tickfont: {family: FONT, size: 43, color: '#000'}},
  yaxis: {range: [0.562, 2.70], tickvals: yTicks, ticktext: yTicks.map(v => v.toFixed(1)),
          showgrid: true, gridcolor: '#ffffff', gridwidth: 6, zeroline: false,
          showline: false, ticks: '', ticklabelstandoff: 46,
          tickfont: {family: FONT, size: 43, color: '#000'}},
  annotations: annotations
};

Plotly.newPlot('chart', traces, layout, {staticPlot: true});
</script>
</body>
</html>
